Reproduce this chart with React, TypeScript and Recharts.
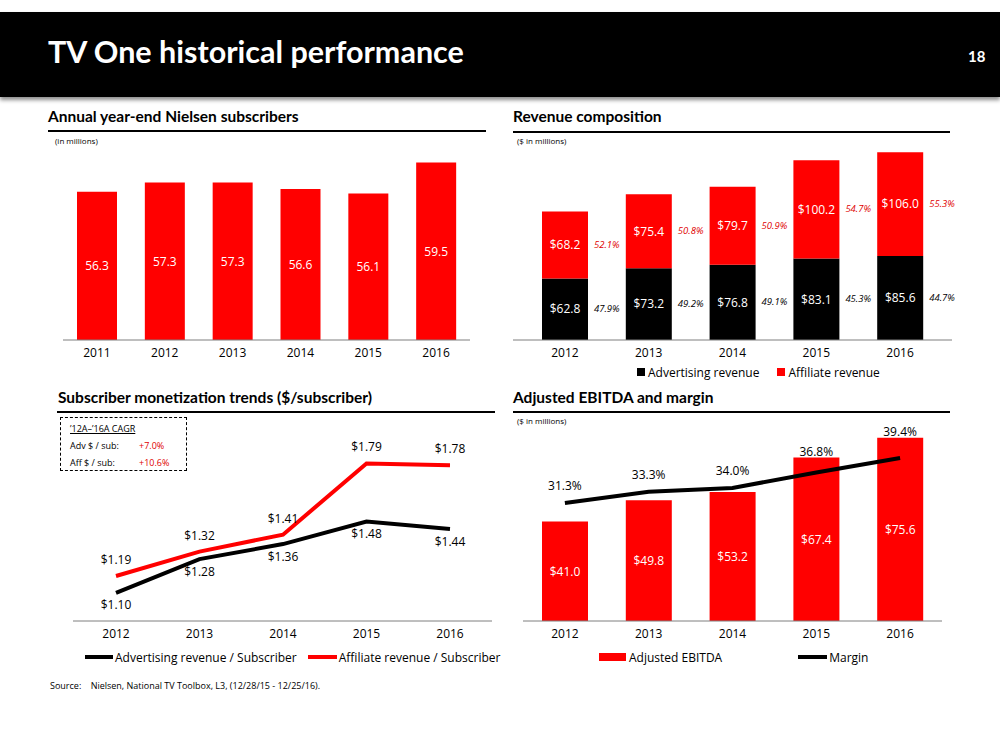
import React from 'react';
import { BarChart, Bar, LineChart, Line, ComposedChart, XAxis, YAxis, LabelList, Legend } from 'recharts';

// subscribers (millions)
const subYears = ['2011', '2012', '2013', '2014', '2015', '2016'];
const subscribers = [56.3, 57.3, 57.3, 56.6, 56.1, 59.5];

// revenue composition ($m)
const years = ['2012', '2013', '2014', '2015', '2016'];
const advRevenue = [62.8, 73.2, 76.8, 83.1, 85.6];
const affRevenue = [68.2, 75.4, 79.7, 100.2, 106.0];
const advShare = ['47.9%', '49.2%', '49.1%', '45.3%', '44.7%'];
const affShare = ['52.1%', '50.8%', '50.9%', '54.7%', '55.3%'];

// $ per subscriber
const advPerSub = [1.1, 1.28, 1.36, 1.48, 1.44];
const affPerSub = [1.19, 1.32, 1.41, 1.79, 1.78];

// adjusted EBITDA ($m) and margin (%)
const ebitda = [41.0, 49.8, 53.2, 67.4, 75.6];
const ebitdaMargin = [31.3, 33.3, 34.0, 36.8, 39.4];

const RED = '#ff0000';
const FONT = '"Open Sans", sans-serif';
const HEAD = 'Lato, sans-serif';

const subData = subYears.map((year, i) => ({ year, subs: subscribers[i] }));
const revData = years.map((year, i) => ({ year, adv: advRevenue[i], aff: affRevenue[i] }));
const perSubData = years.map((year, i) => ({ year, adv: advPerSub[i], aff: affPerSub[i] }));
const ebitdaData = years.map((year, i) => ({ year, ebitda: ebitda[i], margin: ebitdaMargin[i] }));

// chart 4 plot geometry (used to keep margin labels clear of the bars)
const E_TOP = 12;
const E_PLOT_H = 194;
const E_MAX = 80;

const tick = { fill: '#000', fontSize: 12, fontFamily: FONT };

const shareLabel = (labels: string[], color: string) => (props: any) => {
  const vb = props.viewBox ?? props;
  const { x, y, width, height } = vb;
  return (
    <text x={x + width + 6} y={y + height / 2} dy={3} fill={color} fontSize={9.5} fontStyle="italic" fontFamily={FONT}>
      {labels[props.index]}
    </text>
  );
};

const marginLabel = (props: any) => {
  const vb = props.viewBox ?? props;
  const x = props.x ?? vb.x;
  const y = props.y ?? vb.y;
  const i = props.index;
  const barTop = E_TOP + E_PLOT_H - (ebitda[i] / E_MAX) * E_PLOT_H;
  const cy = Math.min(y - 17, barTop - 6);
  return (
    <text x={x} y={cy} dy={4} textAnchor="middle" fill="#000" fontSize={12} fontFamily={FONT}>
      {ebitdaMargin[i].toFixed(1)}%
    </text>
  );
};

const legendRow = (paddingLeft: number, children: React.ReactNode) => (
  <div style={{ display: 'flex', alignItems: 'center', height: 16, paddingLeft, fontFamily: FONT, fontSize: 12, color: '#000', whiteSpace: 'nowrap' }}>
    {children}
  </div>
);

const RevenueLegend = () =>
  legendRow(
    137,
    <>
      <span style={{ width: 8, height: 8, background: '#000', marginRight: 3 }} />
      <span>Advertising revenue</span>
      <span style={{ width: 8, height: 8, background: RED, marginLeft: 18, marginRight: 3 }} />
      <span>Affiliate revenue</span>
    </>
  );

const PerSubLegend = () =>
  legendRow(
    45,
    <>
      <span style={{ width: 28, height: 4, background: '#000', marginRight: 2 }} />
      <span>Advertising revenue / Subscriber</span>
      <span style={{ width: 29, height: 4, background: RED, marginLeft: 11, marginRight: 2 }} />
      <span>Affiliate revenue / Subscriber</span>
    </>
  );

const EbitdaLegend = () =>
  legendRow(
    99,
    <>
      <span style={{ width: 27, height: 8, background: RED, marginRight: 3 }} />
      <span>Adjusted EBITDA</span>
      <span style={{ width: 29, height: 4, background: '#000', marginLeft: 76, marginRight: 2 }} />
      <span>Margin</span>
    </>
  );

const abs = (left: number, top: number, extra: React.CSSProperties = {}): React.CSSProperties => ({
  position: 'absolute',
  left,
  top,
  ...extra,
});

const SectionTitle = ({ left, top, lineLeft, lineRight, lineTop, text }: any) => (
  <>
    <div style={abs(left, top, { fontFamily: HEAD, fontWeight: 700, fontSize: 15.5, lineHeight: 1, whiteSpace: 'nowrap' })}>{text}</div>
    <div style={abs(lineLeft, lineTop, { width: lineRight - lineLeft, height: 2, background: '#000' })} />
  </>
);

const note = (left: number, top: number, text: string, size = 8) => (
  <div style={abs(left, top, { fontFamily: FONT, fontSize: size, lineHeight: '10px', whiteSpace: 'pre' })}>{text}</div>
);

export default function App() {
  return (
    <div style={{ position: 'absolute', left: 0, top: 0, width: 1000, height: 750, background: '#fff', overflow: 'hidden' }}>
      {/* header band */}
      <div style={abs(0, 12, { width: 1000, height: 85, background: '#000', boxShadow: '0 3px 4px rgba(0,0,0,0.45)' })} />
      <div style={abs(48, 36, { color: '#fff', fontFamily: HEAD, fontWeight: 700, fontSize: 30.5, lineHeight: 1, whiteSpace: 'nowrap' })}>
        TV One historical performance
      </div>
      <div style={abs(968, 49, { color: '#fff', fontFamily: HEAD, fontWeight: 700, fontSize: 15, lineHeight: 1 })}>18</div>

      {/* section headings */}
      <SectionTitle left={48} top={109} lineLeft={48} lineRight={486} lineTop={130} text="Annual year-end Nielsen subscribers" />
      <SectionTitle left={513} top={109} lineLeft={513} lineRight={950} lineTop={131} text="Revenue composition" />
      <SectionTitle left={58} top={390} lineLeft={57} lineRight={495} lineTop={411} text="Subscriber monetization trends ($/subscriber)" />
      <SectionTitle left={513} top={390} lineLeft={513} lineRight={950} lineTop={411} text="Adjusted EBITDA and margin" />
      {note(55, 136, '(in millions)')}
      {note(517, 136, '($ in millions)')}
      {note(517, 416, '($ in millions)')}

      {/* subscribers */}
      <div style={abs(40, 150)}>
        <BarChart width={440} height={215} data={subData} margin={{ top: 8, right: 10, bottom: 5, left: 23 }} barSize={40}>
          <XAxis dataKey="year" tickLine={false} axisLine={{ stroke: '#7f7f7f' }} tick={tick} height={20} />
          <YAxis hide domain={[40, 60]} />
          <Bar dataKey="subs" fill={RED} isAnimationActive={false}>
            <LabelList dataKey="subs" position="center" fill="#fff" fontSize={12} fontFamily={FONT} formatter={(v: any) => Number(v).toFixed(1)} />
          </Bar>
        </BarChart>
      </div>

      {/* revenue composition */}
      <div style={abs(500, 136)}>
        <BarChart width={470} height={250} data={revData} margin={{ top: 8, right: 18, bottom: 6, left: 13 }} barSize={46}>
          <XAxis dataKey="year" tickLine={false} axisLine={{ stroke: '#7f7f7f' }} tick={tick} height={24} padding={{ left: 10, right: 10 }} />
          <YAxis hide domain={[0, 200]} />
          <Legend verticalAlign="bottom" content={<RevenueLegend />} wrapperStyle={{ left: 0, width: 470 }} />
          <Bar dataKey="adv" name="Advertising revenue" stackId="rev" fill="#000" isAnimationActive={false}>
            <LabelList dataKey="adv" position="center" fill="#fff" fontSize={12} fontFamily={FONT} formatter={(v: any) => `$${Number(v).toFixed(1)}`} />
            <LabelList dataKey="adv" content={shareLabel(advShare, '#000')} />
          </Bar>
          <Bar dataKey="aff" name="Affiliate revenue" stackId="rev" fill={RED} isAnimationActive={false}>
            <LabelList dataKey="aff" position="center" fill="#fff" fontSize={12} fontFamily={FONT} formatter={(v: any) => `$${Number(v).toFixed(1)}`} />
            <LabelList dataKey="aff" content={shareLabel(affShare, '#e00000')} />
          </Bar>
        </BarChart>
      </div>

      {/* $ per subscriber */}
      <div style={abs(40, 415)}>
        <LineChart width={470} height={260} data={perSubData} margin={{ top: 9, right: 18, bottom: 10, left: 33 }}>
          <XAxis dataKey="year" tickLine={false} axisLine={{ stroke: '#7f7f7f' }} tick={tick} height={28} padding={{ left: 43, right: 42 }} />
          <YAxis hide domain={[0.95, 2.0]} />
          <Legend verticalAlign="bottom" content={<PerSubLegend />} wrapperStyle={{ left: 0, width: 470 }} />
          <Line type="linear" dataKey="adv" stroke="#000" strokeWidth={4} dot={false} isAnimationActive={false}>
            <LabelList dataKey="adv" position="bottom" offset={8} fill="#000" fontSize={12} fontFamily={FONT} formatter={(v: any) => `$${Number(v).toFixed(2)}`} />
          </Line>
          <Line type="linear" dataKey="aff" stroke={RED} strokeWidth={4} dot={false} isAnimationActive={false}>
            <LabelList dataKey="aff" position="top" offset={12} fill="#000" fontSize={12} fontFamily={FONT} formatter={(v: any) => `$${Number(v).toFixed(2)}`} />
          </Line>
        </LineChart>
      </div>

      {/* CAGR box */}
      <div style={abs(60, 417, { width: 127, height: 54, border: '1px dashed #000', boxSizing: 'border-box', fontFamily: FONT, fontSize: 9 })}>
        <div style={abs(9, 5, { lineHeight: '11px', textDecoration: 'underline', whiteSpace: 'nowrap' })}>’12A–’16A CAGR</div>
        <div style={abs(9, 22, { lineHeight: '11px', whiteSpace: 'nowrap' })}>Adv $ / sub:</div>
        <div style={abs(78, 22, { lineHeight: '11px', color: '#e00000' })}>+7.0%</div>
        <div style={abs(9, 39, { lineHeight: '11px', whiteSpace: 'nowrap' })}>Aff $ / sub:</div>
        <div style={abs(78, 39, { lineHeight: '11px', color: '#e00000' })}>+10.6%</div>
      </div>

      {/* adjusted EBITDA and margin */}
      <div style={abs(500, 415)}>
        <ComposedChart width={470} height={260} data={ebitdaData} margin={{ top: E_TOP, right: 28, bottom: 10, left: 23 }} barSize={46}>
          <XAxis dataKey="year" tickLine={false} axisLine={{ stroke: '#7f7f7f' }} tick={tick} height={28} />
          <YAxis yAxisId="left" hide domain={[0, E_MAX]} />
          <YAxis yAxisId="right" orientation="right" hide domain={[10, 45]} />
          <Legend verticalAlign="bottom" content={<EbitdaLegend />} wrapperStyle={{ left: 0, width: 470 }} />
          <Bar yAxisId="left" dataKey="ebitda" name="Adjusted EBITDA" fill={RED} isAnimationActive={false}>
            <LabelList dataKey="ebitda" position="center" fill="#fff" fontSize={12} fontFamily={FONT} formatter={(v: any) => `$${Number(v).toFixed(1)}`} />
          </Bar>
          <Line yAxisId="right" type="linear" dataKey="margin" name="Margin" stroke="#000" strokeWidth={4} dot={false} isAnimationActive={false}>
            <LabelList dataKey="margin" content={marginLabel} />
          </Line>
        </ComposedChart>
      </div>

      {note(50, 681, 'Source:    Nielsen, National TV Toolbox, L3, (12/28/15 - 12/25/16).', 9)}
    </div>
  );
}
